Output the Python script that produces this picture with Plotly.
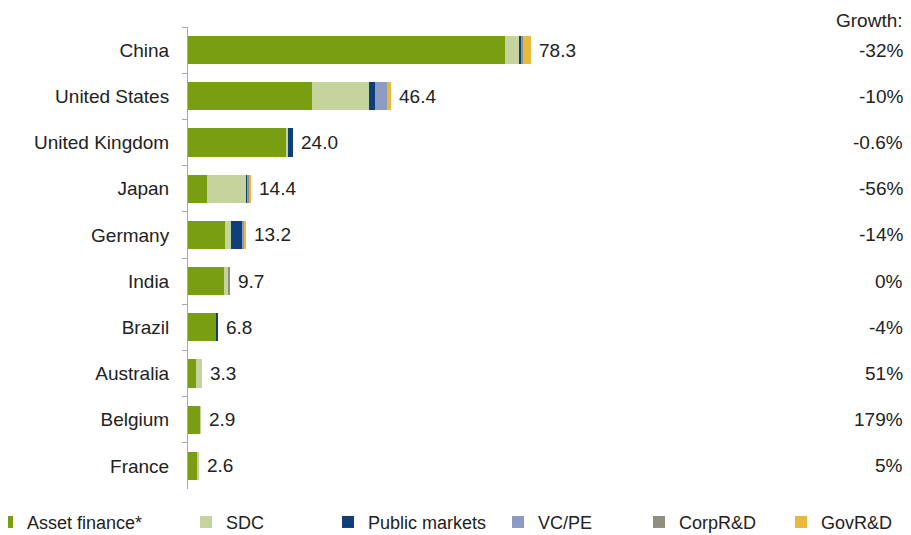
import plotly.graph_objects as go

countries = ["China", "United States", "United Kingdom", "Japan", "Germany",
             "India", "Brazil", "Australia", "Belgium", "France"]
totals = [78.3, 46.4, 24.0, 14.4, 13.2, 9.7, 6.8, 3.3, 2.9, 2.6]
growth = ["-32%", "-10%", "-0.6%", "-56%", "-14%", "0%", "-4%", "51%", "179%", "5%"]

asset_finance = [72.4, 28.2, 22.6, 4.3, 8.5, 8.3, 6.4, 1.9, 2.8, 2.0]
sdc = [3.2, 13.2, 0.3, 9.0, 1.3, 0.8, 0.1, 1.4, 0.1, 0.6]
public_markets = [0.6, 1.3, 1.1, 0.3, 2.5, 0.0, 0.3, 0.0, 0.0, 0.0]
vc_pe = [0.1, 2.7, 0.0, 0.2, 0.5, 0.0, 0.0, 0.0, 0.0, 0.0]
corp_rd = [0.1, 0.0, 0.0, 0.1, 0.0, 0.6, 0.0, 0.0, 0.0, 0.0]
gov_rd = [1.9, 1.0, 0.0, 0.5, 0.4, 0.0, 0.0, 0.0, 0.0, 0.0]

series = [
    ("Asset finance*", asset_finance, "#7a9e12"),
    ("SDC", sdc, "#c4d49c"),
    ("Public markets", public_markets, "#0e3f78"),
    ("VC/PE", vc_pe, "#8c9bc4"),
    ("CorpR&D", corp_rd, "#8f8f80"),
    ("GovR&D", gov_rd, "#e9b93c"),
]

# page has an 8px body margin, so the figure is made 8px smaller
off = 8
legend_px = [26, 225, 367, 537, 678, 820]
plot_left, plot_right = 188, 905

fig = go.Figure()
for i, (name, vals, col) in enumerate(series):
    lg = "legend" if i == 0 else "legend%d" % (i + 1)
    fig.add_trace(go.Bar(y=countries, x=vals, name=name, orientation="h",
                         marker=dict(color=col, line=dict(width=0)),
                         legend=lg, showlegend=True))

for c, t in zip(countries, totals):
    fig.add_annotation(x=t, y=c, text="%.1f" % t, xanchor="left", xshift=6,
                       showarrow=False, font=dict(size=19, color="#222"))

for c, g in zip(countries, growth):
    fig.add_annotation(x=1, xref="paper", y=c, text=g, xanchor="right",
                       showarrow=False, font=dict(size=19, color="#222"))

fig.add_annotation(x=1, xref="paper", y=1.015, yref="paper", text="Growth:",
                   xanchor="right", yanchor="middle", showarrow=False,
                   font=dict(size=19, color="#222"))

layout_legends = {}
for i, px in enumerate(legend_px):
    key = "legend" if i == 0 else "legend%d" % (i + 1)
    layout_legends[key] = dict(
        x=(px - 39 - plot_left) / (plot_right - plot_left), xanchor="left",
        y=-0.072, yanchor="middle", orientation="h",
        font=dict(size=18, color="#222"), bgcolor="rgba(0,0,0,0)")

fig.update_layout(
    barmode="stack",
    bargap=0.39,
    showlegend=True,
    width=911 - off, height=535 - off,
    margin=dict(l=188 - off, r=6, t=27 - off, b=46, autoexpand=False),
    paper_bgcolor="white", plot_bgcolor="white",
    font=dict(family="Liberation Sans, Arial, sans-serif", size=19, color="#222"),
    xaxis=dict(range=[0, 163.7], visible=False),
    yaxis=dict(autorange="reversed", showline=True, linecolor="#a8a8a8",
               linewidth=1, ticks="outside", tickson="boundaries", ticklen=5,
               tickcolor="#a8a8a8", ticklabelstandoff=14, automargin=False,
               tickfont=dict(size=19, color="#222")),
    **layout_legends,
)

fig.write_html("out.html")
